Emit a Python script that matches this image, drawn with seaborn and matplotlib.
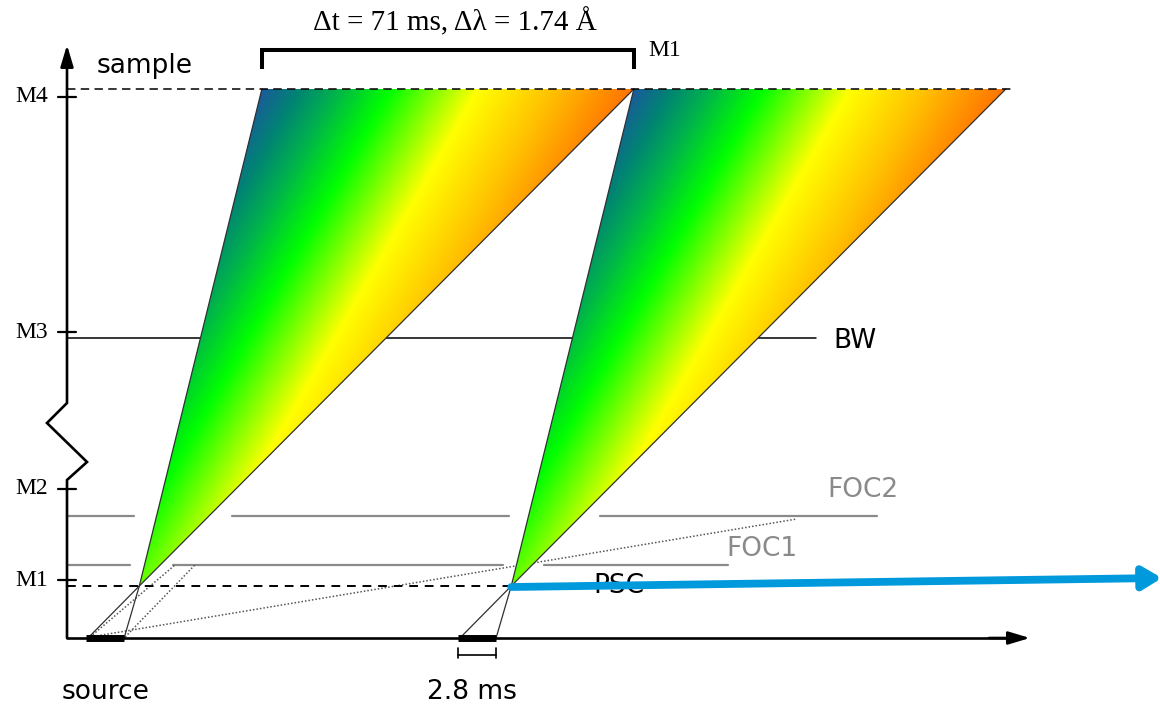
import numpy as np
import pandas as pd
import matplotlib
matplotlib.use("Agg")
import matplotlib.pyplot as plt
import seaborn as sns
from matplotlib.colors import LinearSegmentedColormap
from matplotlib.patches import Polygon

# ---------------------------------------------------------------------------
# Schematic time-distance diagram of a pulsed neutron instrument.
# Time axis in (schematic) ms, distance axis in schematic units.
# ---------------------------------------------------------------------------
period_ms = 71.0                      # frame length, "Δt"
pulse_start = [3.6, 74.6]             # source pulses
pulse_width_drawn = 7.3               # drawn width of a pulse
psc_open = [13.8, 84.8]               # pulse-shaping chopper opening times
sample_fast = [37.2, 108.2]           # arrival of fastest neutrons at sample
sample_slow = [108.2, 179.2]          # arrival of slowest neutrons at sample

# distances along the beam
source_d = 0.0
psc_d = 52.0
foc1_d = 73.0
foc2_d = 122.0
bw_d = 300.0
sample_d = 549.0

tick_d = [58.0, 149.0, 306.0, 541.0]
tick_labels = ["M1", "M2", "M3", "M4"]

# chopper disc segments (closed parts) in time
foc1_segments = [(0.0, 12.0), (20.2, 83.2), (91.0, 126.2)]
foc2_segments = [(0.0, 12.8), (31.5, 84.4), (101.7, 154.6)]
bw_segment = (0.0, 143.0)

# dotted acceptance lines of the frame-overlap choppers (time, distance)
dotted_lines = [
    [(4.4, 1.0), (20.6, foc1_d)],
    [(11.1, 1.0), (24.4, foc1_d)],
    [(4.4, 1.0), (139.3, 119.0)],
]

# outgoing beam (blue arrow)
beam_start = (84.8, 51.0)
beam_end = (209.0, 60.0)

MS_SCALE = 5.239   # drawing scale, ms -> canvas units

sns.set_theme(style="white")
plt.rcParams["font.family"] = ["DejaVu Sans"]
plt.rcParams["text.color"] = "black"

fig = plt.figure(figsize=(11.6, 7.06), dpi=100)
ax = fig.add_axes([0, 0, 1, 1])
ax.axis("off")
XLIM = (-67 / MS_SCALE, (1160 - 67) / MS_SCALE)
YLIM = (-68, 638)

serif = ["Liberation Serif", "DejaVu Serif"]

# ---- wavelength colour map (fast = blue ... slow = orange) ----
cmap = LinearSegmentedColormap.from_list(
    "lam",
    [(0.00, (0.10, 0.36, 0.60)),
     (0.10, (0.00, 0.52, 0.45)),
     (0.20, (0.00, 0.70, 0.30)),
     (0.345, (0.00, 1.00, 0.00)),
     (0.58, (1.00, 1.00, 0.00)),
     (0.78, (1.00, 0.76, 0.00)),
     (1.00, (1.00, 0.45, 0.00))])

gdir = np.array([0.867, -0.498])


def grad_value(t, d):
    return gdir[0] * t * MS_SCALE + gdir[1] * d


for t0, tf, ts in zip(psc_open, sample_fast, sample_slow):
    s0 = grad_value(tf, sample_d)
    s1 = grad_value(ts, sample_d)
    xs = np.linspace(t0 - 1, ts + 1, 700)
    ys = np.linspace(psc_d, sample_d, 500)
    X, Y = np.meshgrid(xs, ys)
    frac = (grad_value(X, Y) - s0) / (s1 - s0)
    im = ax.imshow(frac, extent=[xs[0], xs[-1], ys[0], ys[-1]], origin="lower",
                   cmap=cmap, vmin=0, vmax=1, aspect="auto",
                   interpolation="bilinear", zorder=2)
    tri = Polygon([(t0, psc_d), (tf, sample_d), (ts, sample_d)], closed=True,
                  facecolor="none", edgecolor="none")
    ax.add_patch(tri)
    im.set_clip_path(tri)
    # outline of the wavelength band
    ax.plot([t0, tf], [psc_d, sample_d], color="#303030", lw=0.9, zorder=3)
    ax.plot([t0, ts], [psc_d, sample_d], color="#303030", lw=0.9, zorder=3)

# ---- chopper lines drawn with seaborn ----
rows = []
for k, (a, b) in enumerate(foc1_segments):
    rows += [("FOC1", k, a, foc1_d), ("FOC1", k, b, foc1_d)]
for k, (a, b) in enumerate(foc2_segments):
    rows += [("FOC2", k, a, foc2_d), ("FOC2", k, b, foc2_d)]
choppers = pd.DataFrame(rows, columns=["chopper", "seg", "t", "d"])
choppers["unit"] = choppers["chopper"] + choppers["seg"].astype(str)
sns.lineplot(data=choppers, x="t", y="d", units="unit", estimator=None,
             color="#8a8a8a", lw=1.6, ax=ax, zorder=1, legend=False)

bw_df = pd.DataFrame({"t": list(bw_segment), "d": [bw_d, bw_d]})
sns.lineplot(data=bw_df, x="t", y="d", color="black", lw=1.1, ax=ax,
             zorder=1, legend=False)

# dotted acceptance lines
for (p, q) in dotted_lines:
    ax.plot([p[0], q[0]], [p[1], q[1]], color="#555555", lw=1.1,
            linestyle=(0, (1, 1.3)), zorder=1.5)

# lines from source pulse edges to the pulse-shaping chopper
for ps, t0 in zip(pulse_start, psc_open):
    for edge in (ps + 0.4, ps + pulse_width_drawn):
        ax.plot([edge, t0], [source_d, psc_d], color="#303030", lw=0.9, zorder=3)

# dashed reference levels
ax.plot([0, 180.9], [sample_d, sample_d], color="black", lw=1.1,
        linestyle=(0, (5.5, 3.5)), zorder=4)
ax.plot([0, psc_open[1]], [psc_d, psc_d], color="black", lw=1.4,
        linestyle=(0, (4.5, 3.5)), zorder=4)

# ---- axes with break ----
axis_pts = np.array([(0, 0), (0, 158), (3.82, 176), (-3.82, 215), (0, 235), (0, 585)])
ax.plot(axis_pts[:, 0], axis_pts[:, 1], color="black", lw=1.9, zorder=4,
        solid_joinstyle="miter")
ax.annotate("", xy=(0, 593), xytext=(0, 570),
            arrowprops=dict(arrowstyle="-|>,head_length=1.0,head_width=0.3",
                            mutation_scale=13, color="black", lw=1.9,
                            shrinkA=0, shrinkB=0), zorder=4)
ax.plot([0, 180.0], [0, 0], color="black", lw=1.9, zorder=4)
ax.annotate("", xy=(183.8, 0), xytext=(176, 0),
            arrowprops=dict(arrowstyle="-|>,head_length=1.0,head_width=0.3",
                            mutation_scale=13, color="black", lw=1.9,
                            shrinkA=0, shrinkB=0), zorder=4)

for d, lab in zip(tick_d, tick_labels):
    ax.plot([-1.7, 1.7], [d, d], color="black", lw=1.6, zorder=4)
    ax.text(-3.6, d, lab, ha="right", va="center", fontsize=17,
            family=serif, color="black", zorder=5)

# source pulses
for ps in pulse_start:
    ax.plot([ps, ps + pulse_width_drawn], [source_d, source_d], color="black",
            lw=5.0, solid_capstyle="butt", zorder=5)

# pulse-length marker under second pulse
m0, m1 = pulse_start[1], pulse_start[1] + pulse_width_drawn
ax.plot([m0, m1], [-17, -17], color="black", lw=1.2, zorder=4)
for m in (m0, m1):
    ax.plot([m, m], [-10, -20], color="black", lw=1.2, zorder=4)

# frame bracket
ax.plot([sample_fast[0], sample_fast[0], sample_slow[0], sample_slow[0]],
        [569, 588, 588, 569], color="black", lw=2.9, zorder=4,
        solid_joinstyle="miter", solid_capstyle="butt")

# outgoing beam
ax.annotate("", xy=beam_end, xytext=beam_start,
            arrowprops=dict(arrowstyle="-|>,head_length=1.0,head_width=0.6",
                            mutation_scale=11, color="#0099dc", lw=5.6,
                            shrinkA=0, shrinkB=0), zorder=6,
            annotation_clip=False)

# ---- labels ----
ax.text(74.1, 616, "Δt = 71 ms, Δλ = 1.74 Å", ha="center", va="center",
        fontsize=21, family=serif, color="black")
ax.text(110.9, 587, "M1", ha="left", va="center", fontsize=17, family=serif,
        color="black")
ax.text(5.7, 565, "sample", ha="left", va="baseline", fontsize=19, color="black")
ax.text(-0.95, -54, "source", ha="left", va="center", fontsize=19, color="black")
ax.text(77.3, -54, "2.8 ms", ha="center", va="center", fontsize=19, color="black")
ax.text(146.2, 297, "BW", ha="left", va="center", fontsize=19, color="black")
ax.text(145.1, 148, "FOC2", ha="left", va="center", fontsize=19, color="#8a8a8a")
ax.text(125.8, 89, "FOC1", ha="left", va="center", fontsize=19, color="#8a8a8a")
ax.text(100.4, 52, "PSC", ha="left", va="center", fontsize=19, color="black",
        zorder=5.5)

ax.set_xlim(*XLIM)
ax.set_ylim(*YLIM)

fig.savefig("out.png", dpi=100)
